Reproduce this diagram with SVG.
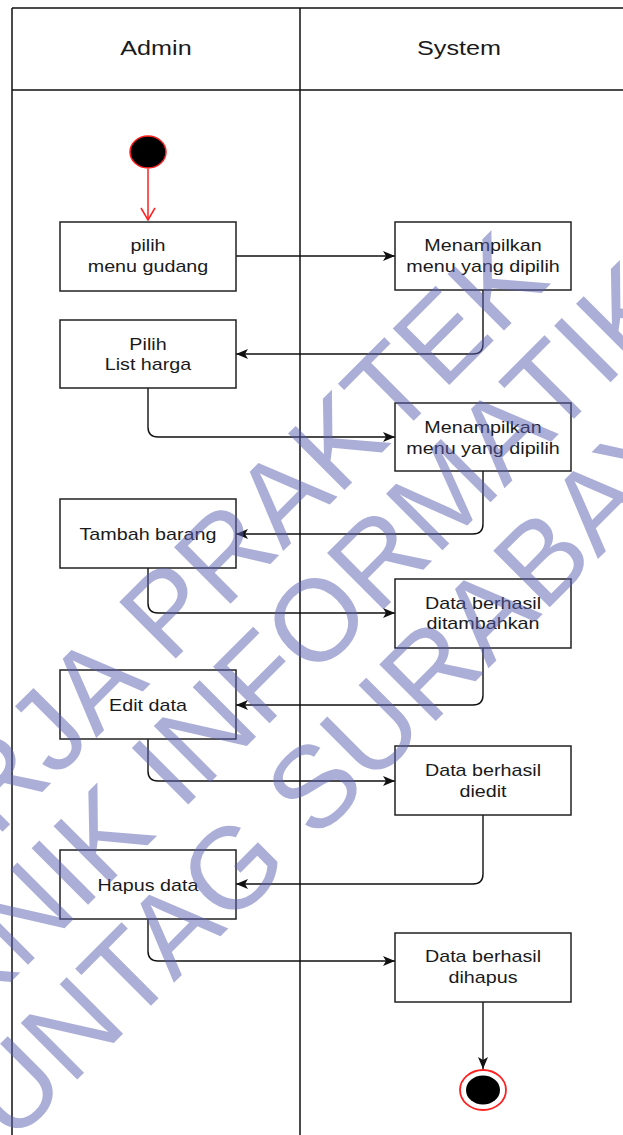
<svg xmlns="http://www.w3.org/2000/svg" width="623" height="1135" viewBox="0 0 623 1135">
  <style>
    .lane { stroke: #111; stroke-width: 1.5; fill: none; }
    .act { fill: #fff; stroke: #222; stroke-width: 1.5; }
    .lbl { font-family: "Liberation Sans", Arial, sans-serif; font-size: 17px; fill: #1a1a1a; text-anchor: middle; }
    .hdr { font-family: "Liberation Sans", Arial, sans-serif; font-size: 21px; fill: #1a1a1a; text-anchor: middle; }
    .flow { fill: none; stroke: #111; stroke-width: 1.4; marker-end: url(#arrow); }
    .wm { font-family: "Liberation Sans", Arial, sans-serif; font-size: 116px; fill: #5a5fb0; text-anchor: middle; }
  </style>
  <defs>
    <marker id="arrow" viewBox="0 0 12 10" refX="12" refY="5" markerWidth="12" markerHeight="10" markerUnits="userSpaceOnUse" orient="auto">
      <path d="M0,0 L12,5 L0,10 L3,5 Z" fill="#111"/>
    </marker>
    <marker id="openArrow" viewBox="0 0 14 16" refX="13" refY="8" markerWidth="14" markerHeight="16" markerUnits="userSpaceOnUse" orient="auto">
      <path d="M1,1 L13,8 L1,15" fill="none" stroke="#ff2020" stroke-width="1.5"/>
    </marker>
  </defs>

  <rect width="623" height="1135" fill="#fff"/>

  <!-- swimlanes -->
  <g id="lanes">
    <path class="lane" d="M12,8 H623 M12,90 H623 M12,8 V1135 M300,8 V1135"/>
    <text class="hdr" transform="translate(156 0) scale(1.2 1)" x="0" y="55">Admin</text>
    <text class="hdr" transform="translate(459 0) scale(1.2 1)" x="0" y="55">System</text>
  </g>

  <!-- connectors -->
  <g id="connectors">
    <path d="M148,169 V220" fill="none" stroke="#ff2020" stroke-width="1.5" marker-end="url(#openArrow)"/>
    <path class="flow" d="M236,256 H395"/>
    <path class="flow" d="M483,290 V344 Q483,354 473,354 H236"/>
    <path class="flow" d="M148,388 V427 Q148,437 158,437 H395"/>
    <path class="flow" d="M483,471 V524 Q483,534 473,534 H236"/>
    <path class="flow" d="M148,568 V603 Q148,613 158,613 H395"/>
    <path class="flow" d="M483,648 V695 Q483,705 473,705 H236"/>
    <path class="flow" d="M148,739 V771 Q148,781 158,781 H395"/>
    <path class="flow" d="M483,815 V874 Q483,884 473,884 H236"/>
    <path class="flow" d="M148,919 V951 Q148,961 158,961 H395"/>
    <path class="flow" d="M483,1002 V1069"/>
  </g>

  <!-- nodes -->
  <g id="start">
    <ellipse cx="148" cy="152" rx="18" ry="16" fill="#000" stroke="#ff2020" stroke-width="1.5"/>
  </g>
  <g id="pilih-menu-gudang">
    <rect class="act" x="60" y="222" width="176" height="69"/>
    <text class="lbl" transform="translate(148 0) scale(1.16 1)"><tspan x="0" y="251">pilih</tspan><tspan x="0" y="272">menu gudang</tspan></text>
  </g>
  <g id="menampilkan-menu-1">
    <rect class="act" x="395" y="222" width="176" height="68"/>
    <text class="lbl" transform="translate(483 0) scale(1.16 1)"><tspan x="0" y="251">Menampilkan</tspan><tspan x="0" y="272">menu yang dipilih</tspan></text>
  </g>
  <g id="pilih-list-harga">
    <rect class="act" x="60" y="320" width="176" height="68"/>
    <text class="lbl" transform="translate(148 0) scale(1.16 1)"><tspan x="0" y="350">Pilih</tspan><tspan x="0" y="370">List harga</tspan></text>
  </g>
  <g id="menampilkan-menu-2">
    <rect class="act" x="395" y="403" width="176" height="68"/>
    <text class="lbl" transform="translate(483 0) scale(1.16 1)"><tspan x="0" y="433">Menampilkan</tspan><tspan x="0" y="454">menu yang dipilih</tspan></text>
  </g>
  <g id="tambah-barang">
    <rect class="act" x="60" y="499" width="176" height="69"/>
    <text class="lbl" transform="translate(148 0) scale(1.16 1)" x="0" y="540">Tambah barang</text>
  </g>
  <g id="data-ditambahkan">
    <rect class="act" x="395" y="579" width="176" height="69"/>
    <text class="lbl" transform="translate(483 0) scale(1.16 1)"><tspan x="0" y="609">Data berhasil</tspan><tspan x="0" y="629">ditambahkan</tspan></text>
  </g>
  <g id="edit-data">
    <rect class="act" x="60" y="670" width="176" height="69"/>
    <text class="lbl" transform="translate(148 0) scale(1.16 1)" x="0" y="711">Edit data</text>
  </g>
  <g id="data-diedit">
    <rect class="act" x="395" y="746" width="176" height="69"/>
    <text class="lbl" transform="translate(483 0) scale(1.16 1)"><tspan x="0" y="776">Data berhasil</tspan><tspan x="0" y="797">diedit</tspan></text>
  </g>
  <g id="hapus-data">
    <rect class="act" x="60" y="850" width="176" height="69"/>
    <text class="lbl" transform="translate(148 0) scale(1.16 1)" x="0" y="891">Hapus data</text>
  </g>
  <g id="data-dihapus">
    <rect class="act" x="395" y="933" width="176" height="69"/>
    <text class="lbl" transform="translate(483 0) scale(1.16 1)"><tspan x="0" y="962">Data berhasil</tspan><tspan x="0" y="983">dihapus</tspan></text>
  </g>
  <g id="end">
    <ellipse cx="483" cy="1090" rx="23" ry="20" fill="#fff" stroke="#ff2020" stroke-width="1.8"/>
    <ellipse cx="483" cy="1090" rx="17" ry="14.5" fill="#000"/>
  </g>

  <!-- diagonal watermark -->
  <g id="watermark" transform="rotate(-45)" opacity="0.5">
    <text class="wm" x="-280" y="590">KERJA PRAKTEK</text>
    <text class="wm" x="-280" y="702">TEKNIK INFORMATIKA</text>
    <text class="wm" x="-280" y="818">UNTAG SURABAYA</text>
  </g>
</svg>
